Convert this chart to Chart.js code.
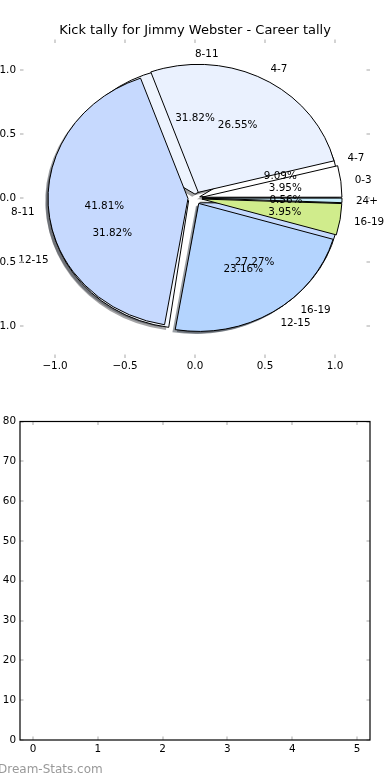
<!DOCTYPE html>
<html>
<head>
<meta charset="utf-8">
<script src="https://cdn.jsdelivr.net/npm/chart.js@4.4.1/dist/chart.umd.min.js"></script>
<style>
  html, body { margin: 0; padding: 0; background: #fff; }
  #wrap { position: relative; width: 390px; height: 780px; overflow: hidden; }
  #pieCanvas { position: absolute; left: 0; top: 0; }
  #tallyCanvas { position: absolute; left: 0; top: 400px; }
  #credit { position: absolute; left: -2px; top: 762px; font: 12px 'DejaVu Sans', sans-serif; color: #999; white-space: nowrap; }
</style>
</head>
<body>
<div id="wrap">
  <canvas id="pieCanvas" width="390" height="400"></canvas>
  <canvas id="tallyCanvas" width="390" height="380"></canvas>
  <div id="credit">Dream-Stats.com</div>
</div>
<script>
// Career tally (drawn on top)
const careerLabels = ['0-3', '4-7', '8-11', '12-15', '16-19', '24+'];
const careerCounts = [7, 47, 74, 41, 7, 1];
const careerColors = ['#ffffff', '#eaf1fe', '#c6d9fe', '#b4d4fe', '#d0ec8c', '#c8eefc'];
const careerExplode = [0.05, 0.05, 0.05, 0.05, 0.05, 0.05];

// Second tally (drawn underneath)
const seasonLabels = ['4-7', '8-11', '12-15', '16-19'];
const seasonCounts = [2, 7, 7, 6];
const seasonColors = ['#ffffff', '#eef4fe', '#f4f8ff', '#c5dafe'];
const seasonExplode = [0.035, 0.03, 0.05, 0.05];

// tick labels
const pieTicks = [-1.0, -0.5, 0.0, 0.5, 1.0];
const tallyXTicks = [0, 1, 2, 3, 4, 5];
const tallyYTicks = [0, 10, 20, 30, 40, 50, 60, 70, 80];

const FONT = 'DejaVu Sans';

Chart.defaults.font.family = FONT;
Chart.defaults.color = '#000';

function buildWedges(counts, labels, colors, explode) {
    const total = counts.reduce((a, b) => a + b, 0);
    let t1 = 0;
    return counts.map((c, i) => {
        const t2 = t1 + (c / total) * Math.PI * 2;
        const mid = (t1 + t2) / 2;
        const w = {
            t1: t1, t2: t2, mid: mid,
            cx: explode[i] * Math.cos(mid), cy: explode[i] * Math.sin(mid),
            pct: (100 * c / total).toFixed(2) + '%',
            label: labels[i], color: colors[i]
        };
        t1 = t2;
        return w;
    });
}

// draws the two overlapping pies on the x/y scales (matplotlib style)
const piePlugin = {
    id: 'pies',
    afterDatasetsDraw(chart) {
        const ctx = chart.ctx;
        const xs = chart.scales.x, ys = chart.scales.y;
        const rx = xs.getPixelForValue(1) - xs.getPixelForValue(0);
        const ry = ys.getPixelForValue(0) - ys.getPixelForValue(1);
        const pies = [
            buildWedges(seasonCounts, seasonLabels, seasonColors, seasonExplode),
            buildWedges(careerCounts, careerLabels, careerColors, careerExplode)
        ];

        const wedgePath = (w, dx, dy) => {
            const px = xs.getPixelForValue(w.cx + dx);
            const py = ys.getPixelForValue(w.cy + dy);
            ctx.beginPath();
            ctx.moveTo(px, py);
            ctx.ellipse(px, py, rx, ry, 0, -w.t1, -w.t2, true);
            ctx.closePath();
        };

        ctx.save();
        // shadows first
        pies.forEach(p => p.forEach(w => {
            const rgb = Chart.helpers.color(w.color).rgb;
            wedgePath(w, -0.02, -0.02);
            ctx.fillStyle = `rgba(${Math.round(rgb.r * 0.3)},${Math.round(rgb.g * 0.3)},${Math.round(rgb.b * 0.3)},0.5)`;
            ctx.fill();
        }));
        // wedges
        pies.forEach(p => p.forEach(w => {
            wedgePath(w, 0, 0);
            ctx.fillStyle = w.color;
            ctx.fill();
            ctx.lineWidth = 1;
            ctx.strokeStyle = '#000';
            ctx.stroke();
        }));
        // labels and percentages
        ctx.font = '10.4px ' + FONT;
        ctx.fillStyle = '#000';
        ctx.textBaseline = 'middle';
        pies.forEach(p => p.forEach(w => {
            const lx = w.cx + 1.1 * Math.cos(w.mid);
            const ly = w.cy + 1.1 * Math.sin(w.mid);
            ctx.textAlign = lx >= -1e-9 ? 'left' : 'right';
            ctx.fillText(w.label, xs.getPixelForValue(lx), ys.getPixelForValue(ly) + 1);
            const tx = w.cx + 0.6 * Math.cos(w.mid);
            const ty = w.cy + 0.6 * Math.sin(w.mid);
            ctx.textAlign = 'center';
            ctx.fillText(w.pct, xs.getPixelForValue(tx), ys.getPixelForValue(ty) + 1);
        }));
        ctx.restore();
    }
};

// inward tick marks on every side, optional black frame
const innerTicks = {
    id: 'innerTicks',
    afterDraw(chart, args, opts) {
        const { ctx, chartArea: a } = chart;
        const xs = chart.scales.x, ys = chart.scales.y;
        const len = 3.5;
        const seg = (x1, y1, x2, y2) => {
            ctx.beginPath(); ctx.moveTo(x1, y1); ctx.lineTo(x2, y2); ctx.stroke();
        };
        ctx.save();
        ctx.strokeStyle = '#c4c4c4';
        ctx.lineWidth = 1.5;
        xs.ticks.forEach(t => {
            const px = Math.round(xs.getPixelForValue(t.value));
            seg(px, a.top + opts.inset, px, a.top + opts.inset + len);
            seg(px, a.bottom, px, a.bottom - len);
        });
        ys.ticks.forEach(t => {
            const py = Math.round(ys.getPixelForValue(t.value));
            seg(a.left, py, a.left + len, py);
            seg(a.right, py, a.right - len, py);
        });
        if (opts.frame) {
            ctx.strokeStyle = '#000';
            ctx.lineWidth = 1.2;
            ctx.strokeRect(a.left, a.top, a.right - a.left, a.bottom - a.top);
        }
        ctx.restore();
    }
};

const signed = v => (v < 0 ? '\u2212' : '') + Math.abs(v).toFixed(1);

new Chart(document.getElementById('pieCanvas'), {
    type: 'scatter',
    data: { datasets: [] },
    options: {
        responsive: false,
        animation: false,
        devicePixelRatio: 1,
        layout: { padding: { left: 0, right: 20, top: 0, bottom: 0 } },
        plugins: {
            legend: { display: false },
            tooltip: { enabled: false },
            title: {
                display: true,
                fullSize: false,
                text: 'Kick tally for Jimmy Webster - Career tally',
                font: { size: 13, weight: 'normal', lineHeight: 1.0 },
                color: '#000',
                padding: { top: 24, bottom: 1 }
            },
            innerTicks: { frame: false, inset: 1.5 }
        },
        scales: {
            x: {
                type: 'linear', min: -1.25, max: 1.25,
                grid: { display: false, drawTicks: false },
                border: { display: false },
                afterBuildTicks: s => { s.ticks = pieTicks.map(v => ({ value: v })); },
                afterFit: s => { s.height = 42; },
                ticks: { callback: signed, font: { size: 10.4 }, padding: 2, autoSkip: false, maxRotation: 0 }
            },
            y: {
                type: 'linear', min: -1.25, max: 1.25,
                grid: { display: false, drawTicks: false },
                border: { display: false },
                afterBuildTicks: s => { s.ticks = pieTicks.map(v => ({ value: v })); },
                afterFit: s => { s.width = 20; },
                ticks: { callback: signed, font: { size: 10.4 }, padding: 4, autoSkip: false }
            }
        }
    },
    plugins: [piePlugin, innerTicks]
});

new Chart(document.getElementById('tallyCanvas'), {
    type: 'scatter',
    data: { datasets: [] },
    options: {
        responsive: false,
        animation: false,
        devicePixelRatio: 1,
        layout: { padding: { left: 0, right: 20, top: 21.5, bottom: 0 } },
        plugins: {
            legend: { display: false },
            tooltip: { enabled: false },
            innerTicks: { frame: true, inset: 0 }
        },
        scales: {
            x: {
                type: 'linear', min: -0.2, max: 5.2,
                grid: { display: false, drawTicks: false },
                border: { display: false },
                afterBuildTicks: s => { s.ticks = tallyXTicks.map(v => ({ value: v })); },
                afterFit: s => { s.height = 40; },
                ticks: { font: { size: 10.4 }, padding: 3, autoSkip: false, maxRotation: 0 }
            },
            y: {
                type: 'linear', min: 0, max: 80,
                grid: { display: false, drawTicks: false },
                border: { display: false },
                afterBuildTicks: s => { s.ticks = tallyYTicks.map(v => ({ value: v })); },
                afterFit: s => { s.width = 20; },
                ticks: { font: { size: 10.4 }, padding: 4, autoSkip: false }
            }
        }
    },
    plugins: [innerTicks]
});
</script>
</body>
</html>
